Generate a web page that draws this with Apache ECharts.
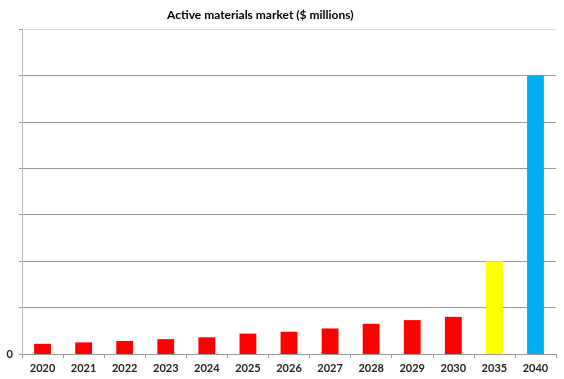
<!DOCTYPE html>
<html><head><meta charset="utf-8">
<script src="https://cdn.jsdelivr.net/npm/echarts@6/dist/echarts.min.js"></script>
<style>html,body{margin:0;padding:0;background:#fff}#c{width:564px;height:379px}</style>
</head><body><div id="c"></div>
<script>
const categories = ['2020','2021','2022','2023','2024','2025','2026','2027','2028','2029','2030','2035','2040'];
const values = [0.22, 0.25, 0.28, 0.32, 0.36, 0.44, 0.48, 0.55, 0.65, 0.73, 0.80, 2.0, 6.0];
const barColors = ['#FF0000','#FF0000','#FF0000','#FF0000','#FF0000','#FF0000','#FF0000','#FF0000','#FF0000','#FF0000','#FF0000','#FFFF00','#00B0F0'];
const titleText = 'Active materials market ($ millions)';

const chart = echarts.init(document.getElementById('c'));
chart.setOption({
  animation: false,
  title: {
    text: titleText, left: 162, top: 4,
    textStyle: { fontFamily: 'Lato', fontWeight: 'bold', fontSize: 12, color: '#000' }
  },
  grid: { left: 22, right: 8, top: 29, bottom: 25 },
  xAxis: {
    type: 'category', data: categories,
    axisLine: { lineStyle: { color: '#999' } },
    axisTick: { show: true, length: 4, lineStyle: { color: '#999' } },
    axisLabel: { fontFamily: 'Lato', fontWeight: 'bold', fontSize: 11, color: '#222', margin: 9 }
  },
  yAxis: {
    type: 'value', min: 0, max: 7, interval: 1,
    axisLine: { show: true, lineStyle: { color: '#bbb' } },
    axisTick: { show: true, length: 3, lineStyle: { color: '#999' } },
    axisLabel: { fontFamily: 'Lato', fontWeight: 'bold', fontSize: 11, color: '#222', margin: 9,
      formatter: v => v === 0 ? '0' : '' },
    splitLine: { lineStyle: { color: ['#999','#999','#999','#999','#999','#999','#999','#ddd'] } }
  },
  series: [{
    type: 'bar', data: values.map((v, i) => ({ value: v, itemStyle: { color: barColors[i] } })),
    barWidth: '41%'
  }]
});
</script></body></html>
